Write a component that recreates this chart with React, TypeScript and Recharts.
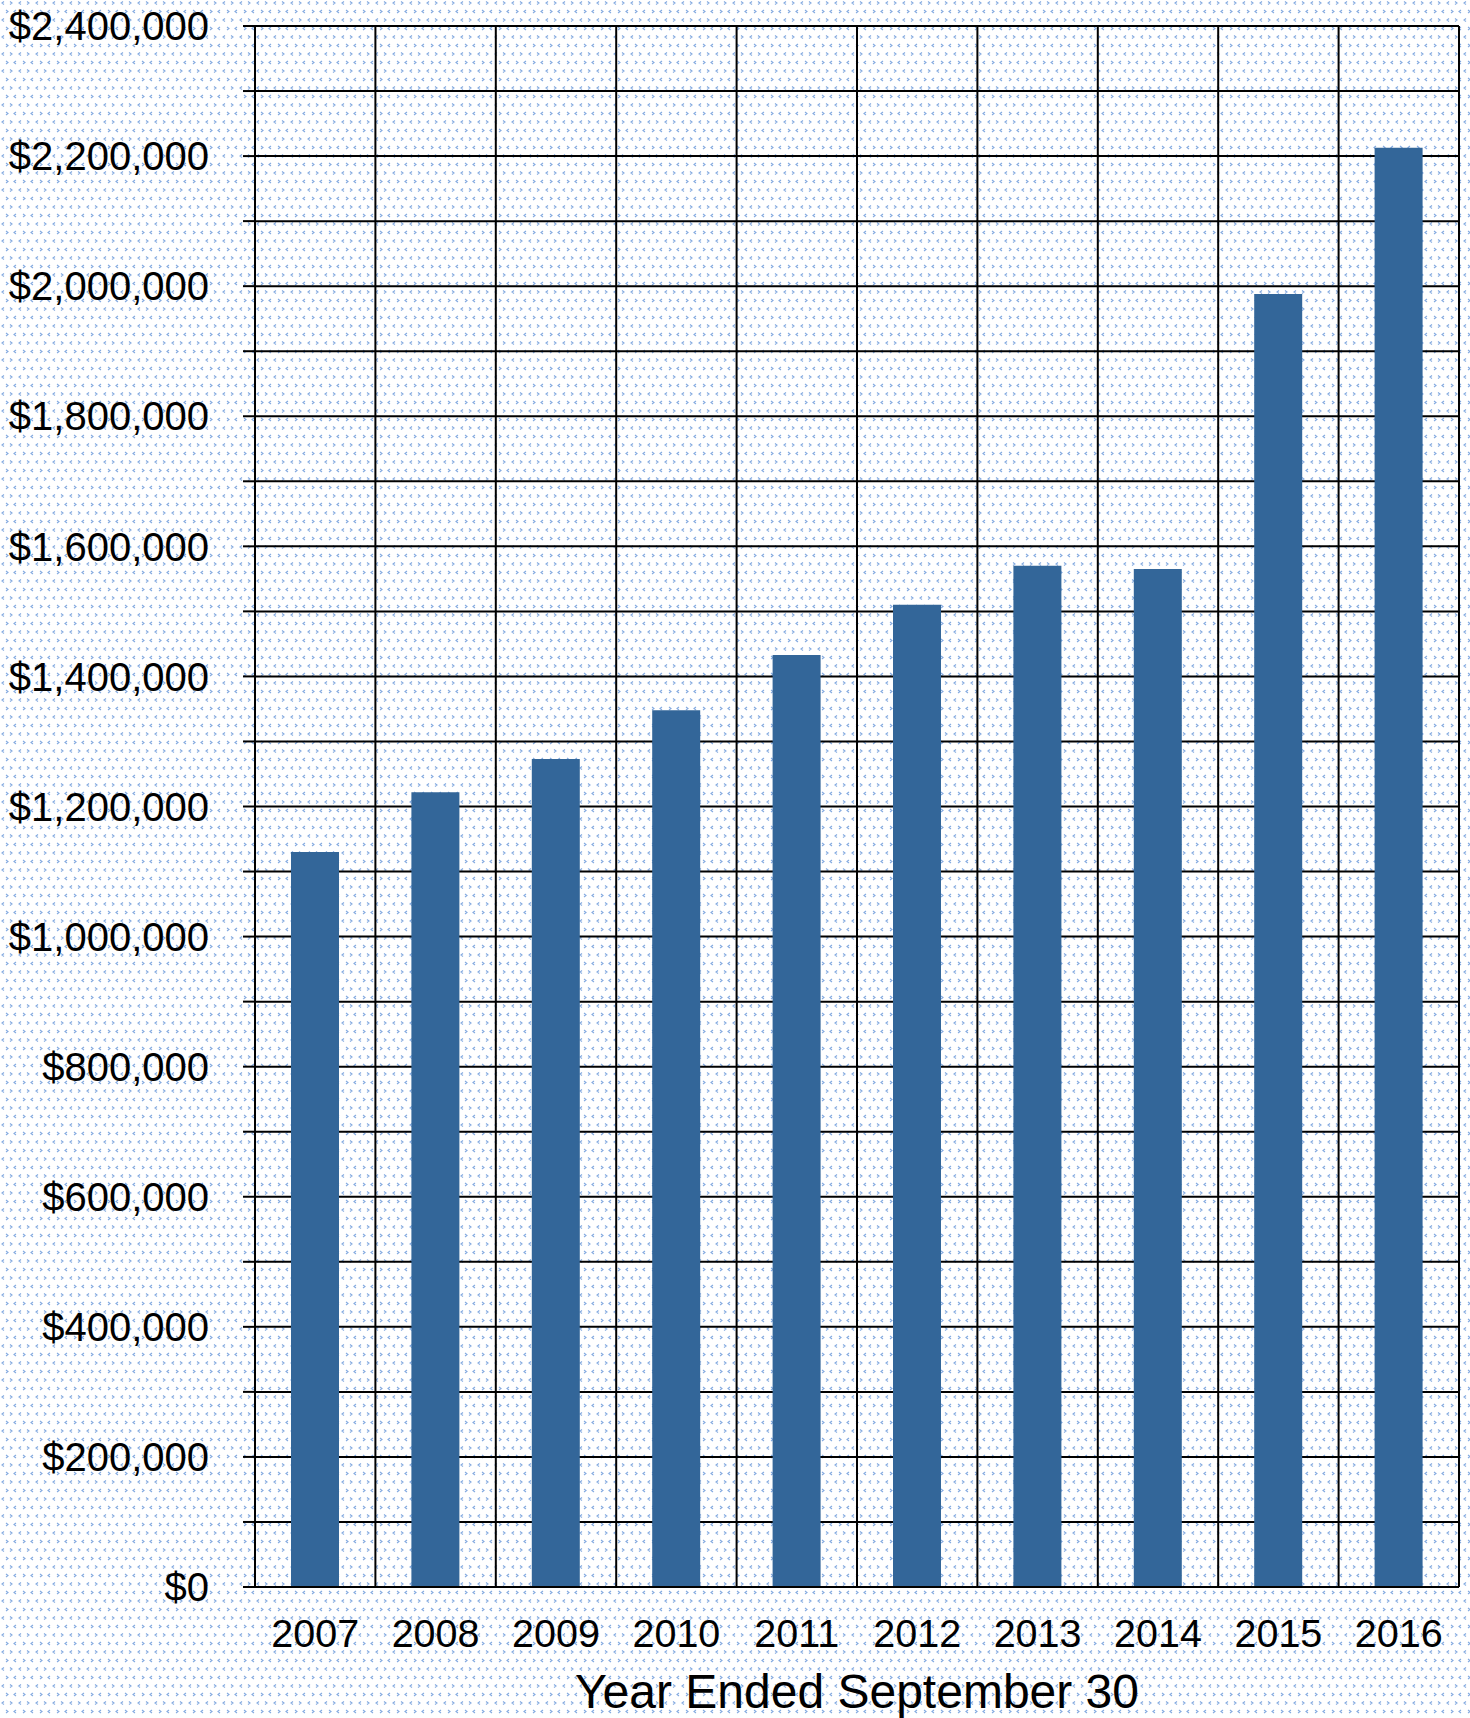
import { BarChart, Bar, XAxis, YAxis, CartesianGrid, Label } from "recharts"

const years = ["2007", "2008", "2009", "2010", "2011", "2012", "2013", "2014", "2015", "2016"]
const amounts = [1130000, 1222000, 1273000, 1348000, 1433000, 1510000, 1570000, 1565000, 1988000, 2213000]
const yTicks = [
  0, 100000, 200000, 300000, 400000, 500000, 600000, 700000, 800000, 900000, 1000000, 1100000,
  1200000, 1300000, 1400000, 1500000, 1600000, 1700000, 1800000, 1900000, 2000000, 2100000,
  2200000, 2300000, 2400000
]

const chartData = years.map((y, i) => ({ year: y, amount: amounts[i] }))

const font = "'Liberation Sans', Arial, sans-serif"

const tile =
  "<svg xmlns='http://www.w3.org/2000/svg' width='17' height='17'>" +
  "<rect width='17' height='17' fill='#ffffff'/>" +
  "<g fill='none' stroke='#82a9e0' stroke-width='1.1'>" +
  "<path d='M4 1.5 L2 3 L4 4.5'/>" +
  "<path d='M10 1.5 L12 3 L10 4.5'/>" +
  "<path d='M6 10 L8 11.5 L6 13'/>" +
  "<path d='M16 10 L14 11.5 L16 13'/>" +
  "</g></svg>"

const bg = `url("data:image/svg+xml;utf8,${encodeURIComponent(tile)}")`

function YTick(props: any) {
  const { x, y, payload } = props
  if (payload.value % 200000 !== 0) return null
  return (
    <text x={x} y={y} dy="0.355em" textAnchor="end" fontSize={40} fill="#000" fontFamily={font}>
      {"$" + payload.value.toLocaleString("en-US")}
    </text>
  )
}

// vertical grid lines sit on the category boundaries, not the centres
function categoryEdges({ offset }: any) {
  const step = offset.width / years.length
  return years.map((_, i) => offset.left + i * step).concat(offset.left + offset.width)
}

export default function App() {
  return (
    <div
      style={{
        position: "absolute",
        left: 0,
        top: 0,
        width: 1470,
        height: 1718,
        backgroundImage: bg,
        fontFamily: font
      }}
    >
      <BarChart
        width={1470}
        height={1718}
        data={chartData}
        margin={{ top: 26, right: 11, left: 0, bottom: 0 }}
      >
        <CartesianGrid stroke="#000" strokeWidth={2} verticalCoordinatesGenerator={categoryEdges} />
        <XAxis
          dataKey="year"
          height={131}
          tickLine={false}
          tickSize={0}
          tickMargin={32}
          axisLine={{ stroke: "#000", strokeWidth: 2 }}
          tick={{ fontSize: 39.5, fill: "#000", fontFamily: font }}
        >
          <Label
            value="Year Ended September 30"
            position="insideBottom"
            offset={10}
            style={{ fontSize: 48, fill: "#000", fontFamily: font }}
          />
        </XAxis>
        <YAxis
          width={255}
          domain={[0, 2400000]}
          ticks={yTicks}
          interval={0}
          tickSize={12}
          tickMargin={34}
          tickLine={{ stroke: "#000", strokeWidth: 2 }}
          axisLine={{ stroke: "#000", strokeWidth: 2 }}
          tick={<YTick />}
        />
        <Bar dataKey="amount" fill="#336699" barSize={48} isAnimationActive={false} />
      </BarChart>
    </div>
  )
}
